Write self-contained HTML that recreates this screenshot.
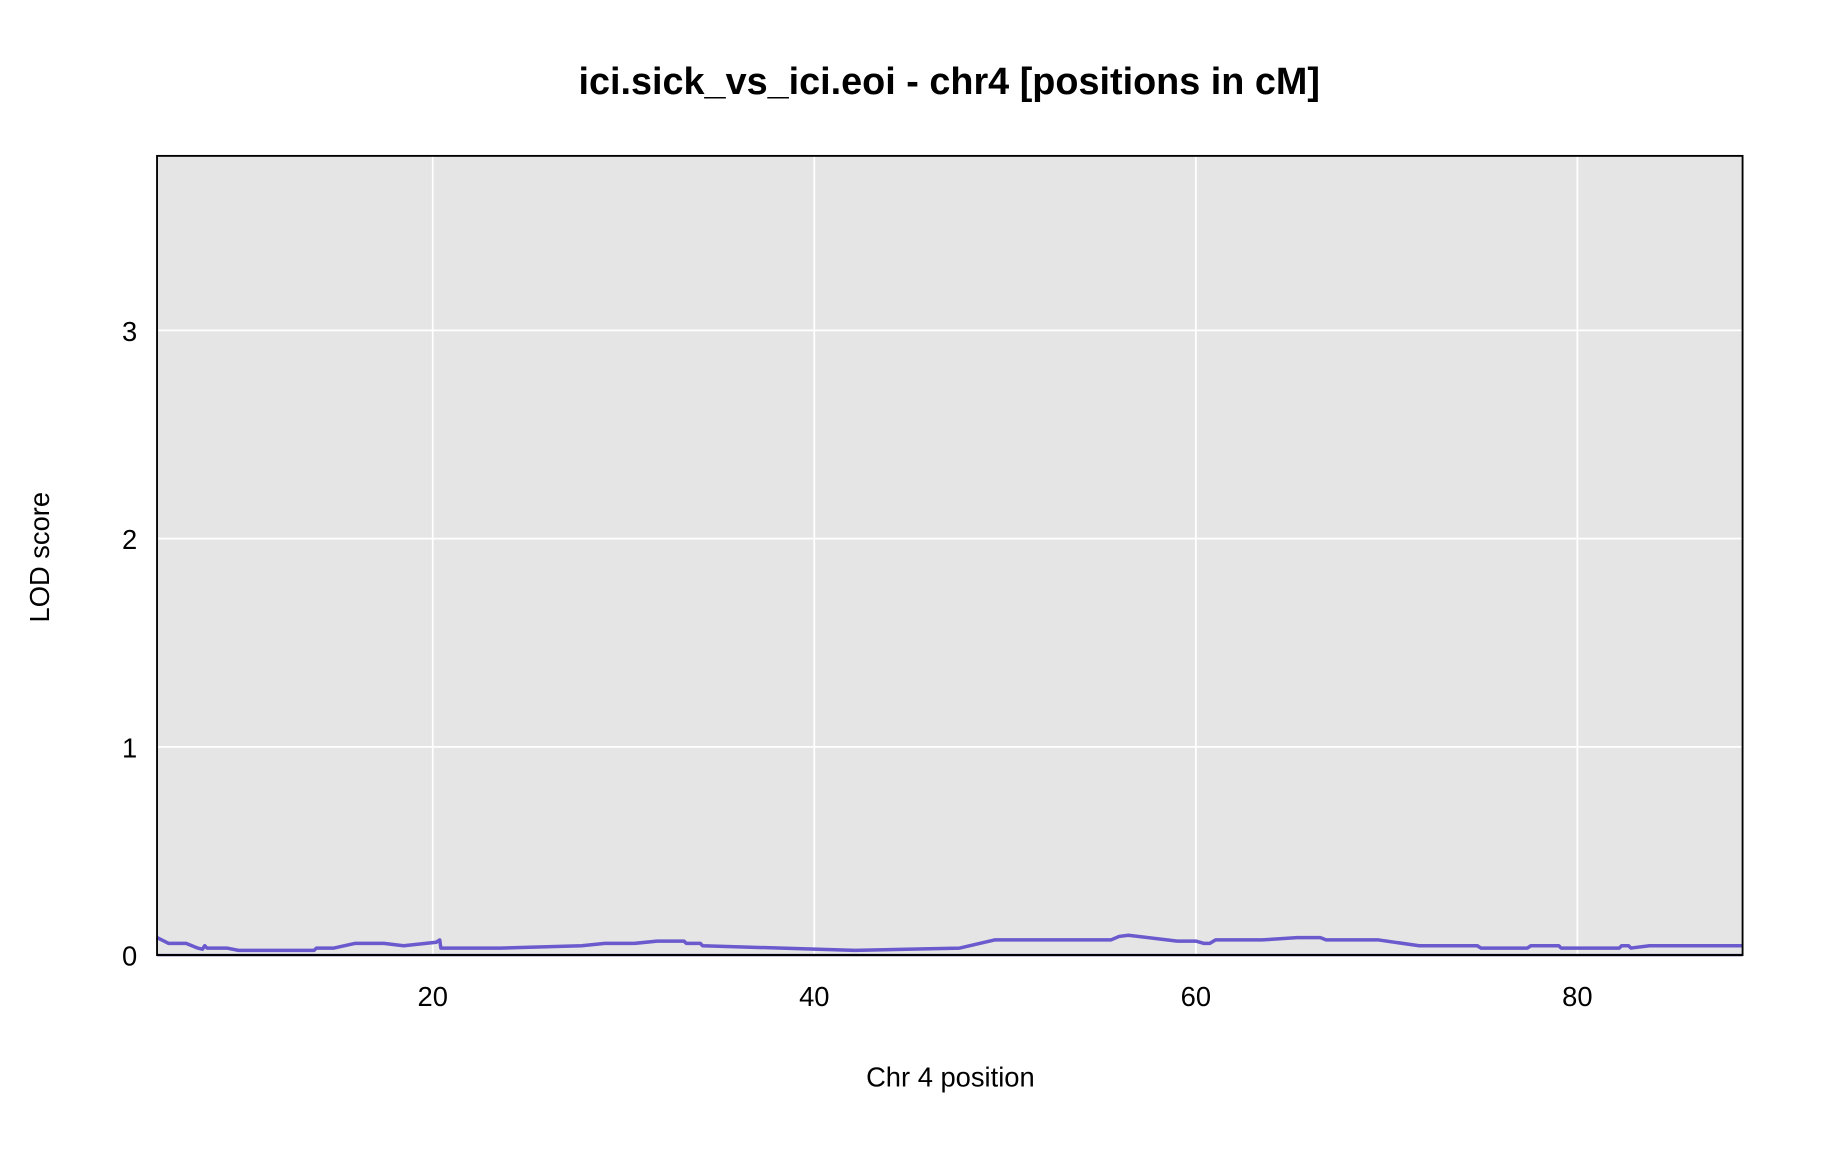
<!DOCTYPE html>
<html><head><meta charset="utf-8"><style>html,body{margin:0;padding:0;background:#fff}svg{display:block}</style></head>
<body>
<svg width="1824" height="1152" viewBox="0 0 1568 990.3" xmlns="http://www.w3.org/2000/svg" font-family="'Liberation Sans', sans-serif">
<rect x="0" y="0" width="1568" height="990.3" fill="#fff"/>
<text x="816" y="81" text-anchor="middle" font-size="32.5" font-weight="bold">ici.sick_vs_ici.eoi - chr4 [positions in cM]</text>
<rect x="135" y="134" width="1363" height="687" fill="#e5e5e5"/>
<g stroke="#fff" stroke-width="1.5">
<line x1="372" y1="134" x2="372" y2="821"/><line x1="700" y1="134" x2="700" y2="821"/>
<line x1="1028" y1="134" x2="1028" y2="821"/><line x1="1356" y1="134" x2="1356" y2="821"/>
<line x1="135" y1="642" x2="1498" y2="642"/><line x1="135" y1="463" x2="1498" y2="463"/><line x1="135" y1="284" x2="1498" y2="284"/>
</g>
<polyline fill="none" stroke="#6a5acd" stroke-width="3" stroke-linejoin="round" points="135,806 145,811 160,811 170,815 174,816 176,813 178,815 195,815 205,817 270,817 272,815 287,815 305,811 330,811 347,813 375,810 378,808 379,815 430,815 500,813 520,811 545,811 565,809 588,809 590,811 602,811 604,813 735,817 825,815 855,808 955,808 962,805 970,804 1012,809 1028,809 1035,811 1040,811 1045,808 1085,808 1115,806 1135,806 1140,808 1185,808 1220,813 1270,813 1273,815 1313,815 1316,813 1340,813 1342,815 1392,815 1394,813 1400,813 1402,815 1418,813 1498,813"/>
<line x1="135" y1="821" x2="1498" y2="821" stroke="#1a0a5a" stroke-width="2"/>
<rect x="135" y="134" width="1363" height="687" fill="none" stroke="#000" stroke-width="1.6"/>
<g font-size="23.5" text-anchor="end">
<text x="118" y="830">0</text><text x="118" y="651">1</text><text x="118" y="472">2</text><text x="118" y="293">3</text>
</g>
<g font-size="23.5" text-anchor="middle">
<text x="372" y="865">20</text><text x="700" y="865">40</text><text x="1028" y="865">60</text><text x="1356" y="865">80</text>
<text x="817" y="934">Chr 4 position</text>
</g>
<text transform="translate(42,479) rotate(-90)" font-size="23.5" text-anchor="middle">LOD score</text>
</svg>
</body></html>
